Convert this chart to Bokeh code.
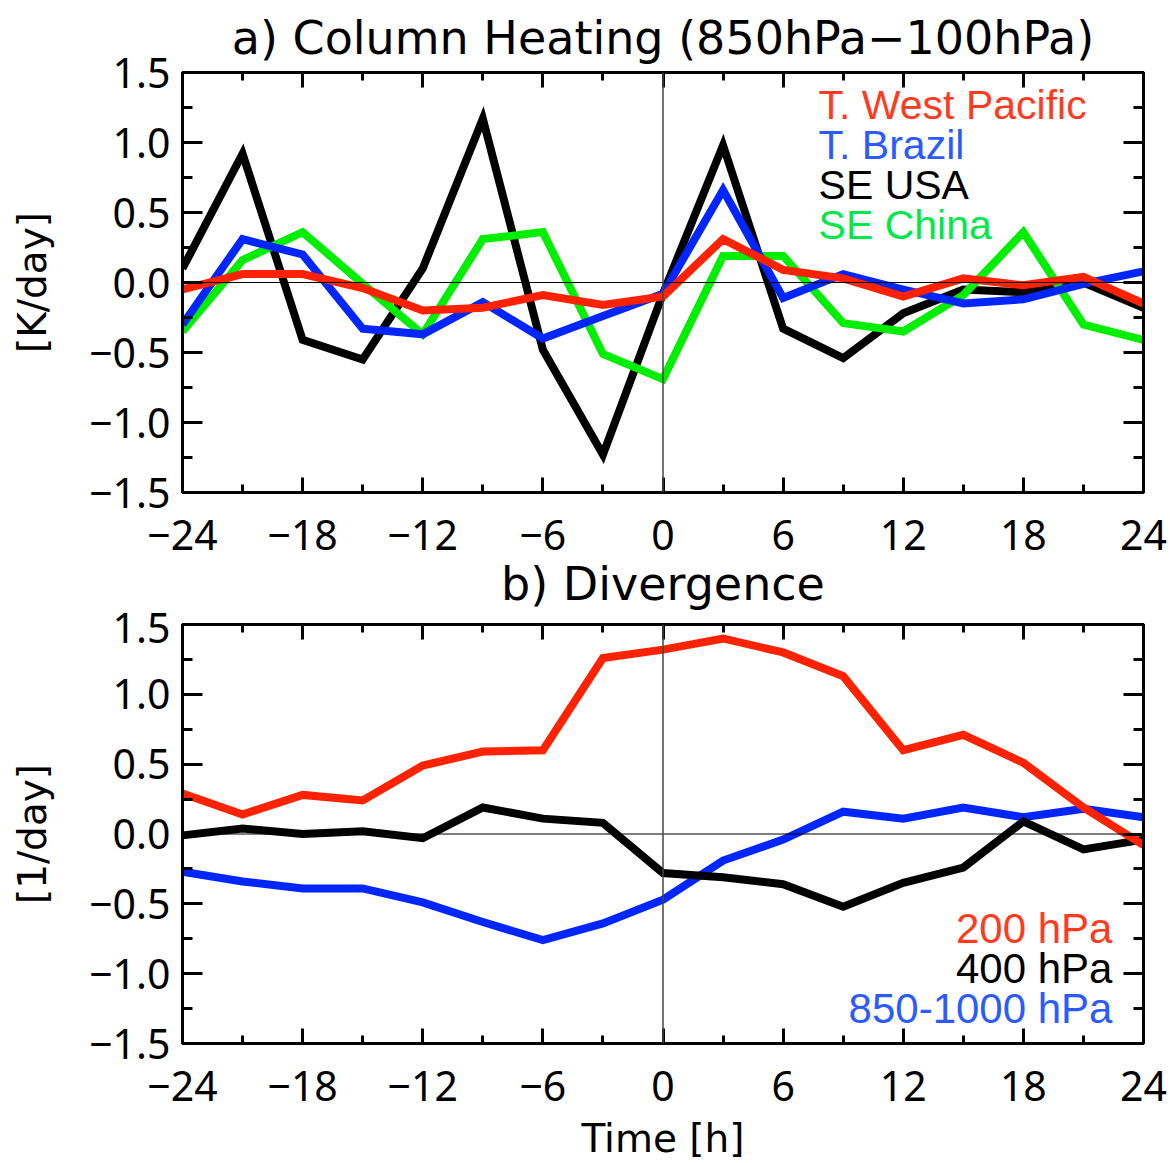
from bokeh.plotting import figure
from bokeh.models import Range1d, FixedTicker, LinearAxis, Span, CustomJSTickFormatter, Title
from bokeh.layouts import column
from bokeh.embed import file_html
from bokeh.resources import INLINE
from bokeh.core.properties import value

# ---------------- data ----------------
hours = [-24, -21, -18, -15, -12, -9, -6, -3, 0, 3, 6, 9, 12, 15, 18, 21, 24]

# a) Column heating [K/day]
heat_wpac   = [-0.05, 0.06, 0.06, -0.04, -0.20, -0.18, -0.09, -0.16, -0.10, 0.31, 0.09, 0.03, -0.10, 0.03, -0.02, 0.04, -0.15]
heat_brazil = [-0.30, 0.31, 0.20, -0.33, -0.37, -0.14, -0.40, -0.24, -0.08, 0.66, -0.11, 0.06, -0.05, -0.15, -0.12, -0.01, 0.08]
heat_seusa  = [0.10, 0.92, -0.41, -0.55, 0.10, 1.17, -0.48, -1.23, -0.08, 0.98, -0.33, -0.54, -0.22, -0.05, -0.07, 0.00, -0.18]
heat_china  = [-0.35, 0.16, 0.36, -0.01, -0.37, 0.31, 0.36, -0.51, -0.69, 0.19, 0.19, -0.29, -0.35, -0.09, 0.36, -0.30, -0.41]

# b) Divergence [1/day]
div_200  = [0.29, 0.14, 0.28, 0.24, 0.49, 0.59, 0.60, 1.26, 1.32, 1.40, 1.30, 1.13, 0.60, 0.71, 0.51, 0.19, -0.08]
div_400  = [-0.01, 0.04, 0.00, 0.02, -0.03, 0.19, 0.11, 0.08, -0.28, -0.31, -0.36, -0.52, -0.35, -0.24, 0.09, -0.11, -0.04]
div_850  = [-0.27, -0.34, -0.39, -0.39, -0.49, -0.63, -0.76, -0.64, -0.47, -0.19, -0.04, 0.16, 0.11, 0.19, 0.12, 0.18, 0.12]

x_major = [-24, -18, -12, -6, 0, 6, 12, 18, 24]
x_minor = [-21, -15, -9, -3, 3, 9, 15, 21]
y_major = [-1.5, -1.0, -0.5, 0.0, 0.5, 1.0, 1.5]
y_minor = [-1.25, -0.75, -0.25, 0.25, 0.75, 1.25]

legend_a = ["T. West Pacific", "T. Brazil", "SE USA", "SE China"]
legend_b = ["200 hPa", "400 hPa", "850-1000 hPa"]

title_a = "a) Column Heating (850hPa\u2212100hPa)"
title_b = "b) Divergence"
ylabel_a = "[K/day]"
ylabel_b = "[1/day]"
xlabel = "Time [h]"

# ---------------- styles ----------------
RED, BLUE, GREEN, BLACK = "#FF2200", "#0026FF", "#00EE00", "#000000"
RED_T, BLUE_T, GREEN_T = "#FF3B1F", "#2B5BFF", "#00E84C"
TICK_FONT = "Noto Sans"
TITLE_FONT = "DejaVu Sans"
LEG_FONT = "Liberation Sans"
LW = 8

xfmt = CustomJSTickFormatter(code="return (tick < 0 ? '\u2212' : '') + Math.abs(tick).toFixed(0);")
yfmt = CustomJSTickFormatter(code="return (Math.abs(tick) < 1e-9 ? '0.0' : ((tick < 0 ? '\u2212' : '') + Math.abs(tick).toFixed(1)));")
nofmt = CustomJSTickFormatter(code="return '';")


def style_axis(ax, ticks, minor, fmt, maj_len, min_len, labels, standoff=0):
    ax.ticker = FixedTicker(ticks=ticks, minor_ticks=minor)
    ax.axis_line_width = 3
    ax.axis_line_color = "black"
    ax.major_tick_line_width = 3
    ax.minor_tick_line_width = 3
    ax.major_tick_line_color = "black"
    ax.minor_tick_line_color = "black"
    ax.major_tick_in = maj_len
    ax.major_tick_out = 0
    ax.minor_tick_in = min_len
    ax.minor_tick_out = 0
    if labels:
        ax.formatter = fmt
        ax.major_label_text_font = TICK_FONT
        ax.major_label_text_font_size = "41px"
        ax.major_label_text_color = "black"
        ax.major_label_standoff = standoff
    else:
        ax.formatter = nofmt
        ax.major_label_text_color = None
        ax.major_label_text_font_size = "1px"
        ax.major_label_standoff = 0


def make_panel(height, top, bottom):
    p = figure(width=1170, height=height,
               x_range=Range1d(-24, 24), y_range=Range1d(-1.5, 1.5),
               output_backend="svg", toolbar_location=None,
               min_border_left=182, min_border_right=27,
               min_border_top=top, min_border_bottom=bottom,
               background_fill_color="white", border_fill_color="white")
    p.xgrid.visible = False
    p.ygrid.visible = False
    p.outline_line_color = "black"
    p.outline_line_width = 3
    return p


def style_title(t, standoff):
    t.align = "center"
    t.text_font = TITLE_FONT
    t.text_font_size = "46px"
    t.text_font_style = "normal"
    t.text_color = "black"
    t.standoff = standoff


def decorate(p, ylabel):
    bx = p.below[0]
    style_axis(bx, x_major, x_minor, xfmt, 15, 8, True, standoff=27)
    ly = p.left[0]
    style_axis(ly, y_major, y_minor, yfmt, 20, 10, True, standoff=12)
    ly.axis_label = ylabel
    ly.axis_label_text_font = TITLE_FONT
    ly.axis_label_text_font_size = "39px"
    ly.axis_label_text_font_style = "normal"
    ly.axis_label_text_color = "black"
    ly.axis_label_standoff = 31

    tx = LinearAxis()
    style_axis(tx, x_major, x_minor, None, 15, 8, False)
    p.add_layout(tx, "above")
    ry = LinearAxis()
    style_axis(ry, y_major, y_minor, None, 20, 10, False)
    p.add_layout(ry, "right")

    p.add_layout(Span(location=0, dimension="width", line_color="black", line_width=1))
    p.add_layout(Span(location=0, dimension="height", line_color="#444444", line_width=1.5))
    return bx


# ---------------- panel a ----------------
P1_H = 612
p1 = make_panel(P1_H, 72, P1_H - 72 - 420)
p1.title.text = title_a
style_title(p1.title, 16)
decorate(p1, ylabel_a)

p1.line(hours, heat_seusa, line_color=BLACK, line_width=LW, line_join="miter")
p1.line(hours, heat_china, line_color=GREEN, line_width=LW, line_join="miter")
p1.line(hours, heat_brazil, line_color=BLUE, line_width=LW, line_join="miter")
p1.line(hours, heat_wpac, line_color=RED, line_width=LW, line_join="miter")
p1.text(x=[7.77] * 4, y=[1.271, 0.985, 0.700, 0.414], text=legend_a,
        text_color=[RED_T, BLUE_T, BLACK, GREEN_T],
        text_font=value(LEG_FONT), text_font_size=value("41px"),
        text_align="left", text_baseline="alphabetic")

# title of panel b sits in the gap between the two panels
tb = Title(text=title_b)
style_title(tb, 4)
p1.add_layout(tb, "below")

# ---------------- panel b ----------------
P2_H = 1163 - P1_H
p2 = make_panel(P2_H, P2_H - 419 - 120, 120)
bx2 = decorate(p2, ylabel_b)
bx2.axis_label = xlabel
bx2.axis_label_text_font = TITLE_FONT
bx2.axis_label_text_font_size = "39px"
bx2.axis_label_text_font_style = "normal"
bx2.axis_label_text_color = "black"
bx2.axis_label_standoff = 12

p2.line(hours, div_850, line_color=BLUE, line_width=LW, line_join="miter")
p2.line(hours, div_400, line_color=BLACK, line_width=LW, line_join="miter")
p2.line(hours, div_200, line_color=RED, line_width=LW, line_join="miter")
p2.text(x=[22.45] * 3, y=[-0.679, -0.964, -1.25], text=legend_b,
        text_color=[RED_T, BLACK, BLUE_T],
        text_font=value(LEG_FONT), text_font_size=value("42px"),
        text_align="right", text_baseline="alphabetic")

layout = column(p1, p2)
open("out.html", "w").write(file_html(layout, INLINE))
